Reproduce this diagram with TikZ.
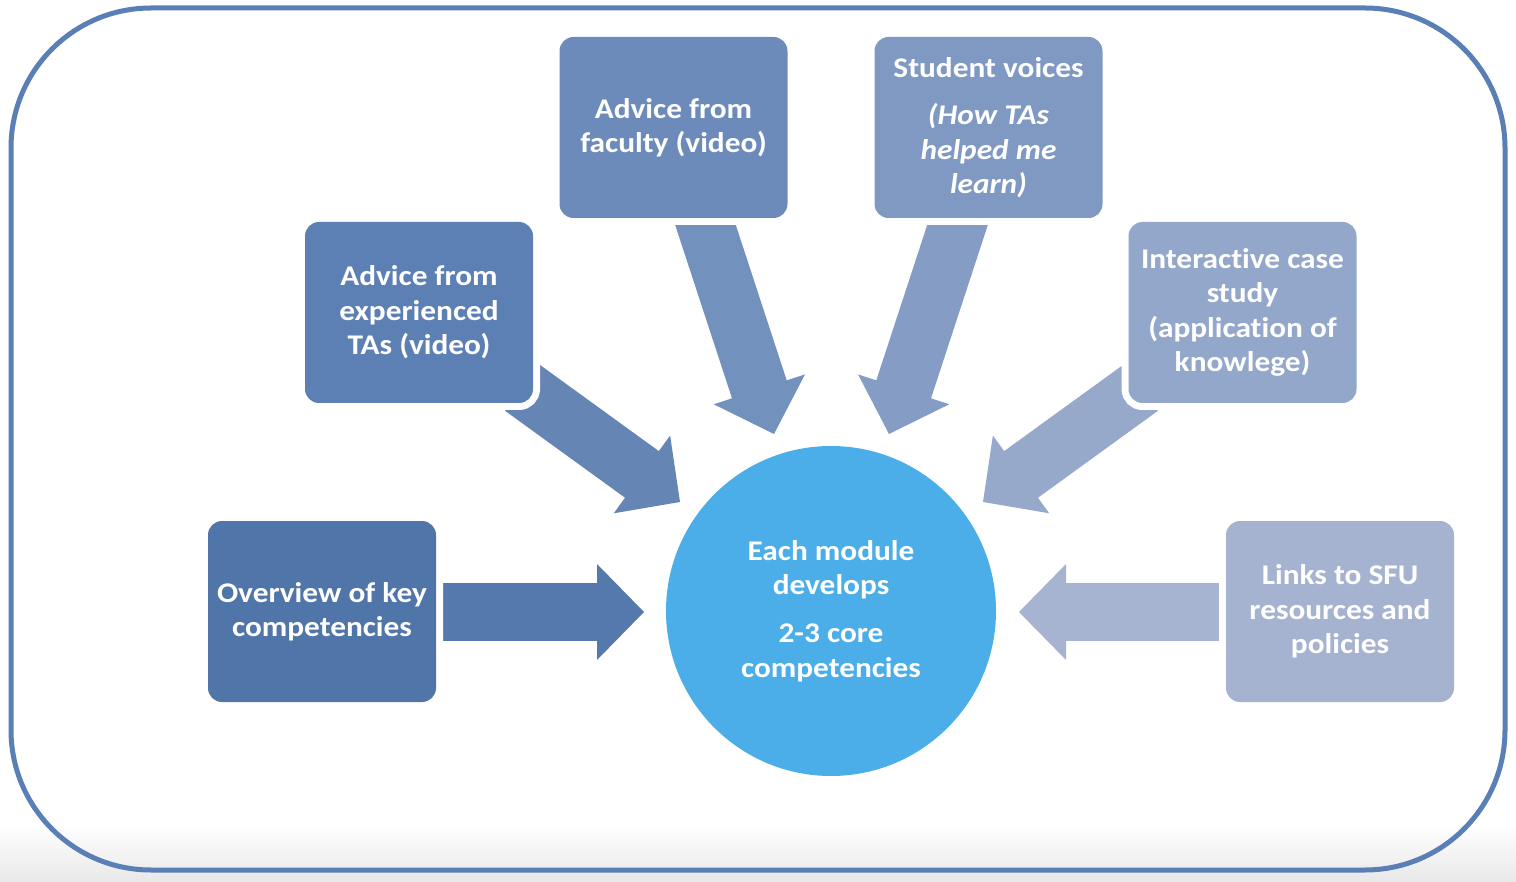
\documentclass[tikz,border=0pt]{standalone}
\usepackage{fontspec}
\setmainfont{Carlito}[FakeStretch=1.1, Ligatures=NoCommon]
\usetikzlibrary{calc}
\definecolor{frameblue}{HTML}{5A7EB6}
\definecolor{boxA}{HTML}{5075A8}
\definecolor{boxB}{HTML}{5D80B4}
\definecolor{boxC}{HTML}{6D8BBA}
\definecolor{boxD}{HTML}{7F99C2}
\definecolor{boxE}{HTML}{93A7CA}
\definecolor{boxF}{HTML}{A5B3D1}
\definecolor{arrA}{HTML}{5579AD}
\definecolor{arrB}{HTML}{6585B5}
\definecolor{arrC}{HTML}{7391BD}
\definecolor{arrD}{HTML}{859CC4}
\definecolor{arrE}{HTML}{97A9CB}
\definecolor{arrF}{HTML}{A6B4D2}
\definecolor{hub}{HTML}{4BAEE8}
\newcommand{\blockarr}[3]{%
  \fill[#3] ($(#1)!28.8pt!90:(#2)$)
    -- ($(#2)!47pt!(#1)!28.8pt!90:(#2)$)
    -- ($(#2)!47pt!(#1)!48pt!90:(#2)$)
    -- (#2)
    -- ($(#2)!47pt!(#1)!48pt!-90:(#2)$)
    -- ($(#2)!47pt!(#1)!28.8pt!-90:(#2)$)
    -- ($(#1)!28.8pt!-90:(#2)$) -- cycle;}
\tikzset{
  card/.style={rectangle, rounded corners=14pt, minimum width=228pt, minimum height=181pt,
    inner sep=0pt, align=center, text=white,
    font=\bfseries\fontsize{28.5}{34.5}\selectfont,
    preaction={draw=white, line width=14pt}},
  hubnode/.style={circle, fill=hub, minimum size=330pt, inner sep=0pt, align=center,
    text=white, font=\bfseries\fontsize{28.5}{34.5}\selectfont}
}
\begin{document}
\begin{tikzpicture}[x=1pt, y=-1pt]
\useasboundingbox (0,0) rectangle (1516,882);
\fill[white] (0,0) rectangle (1516,882);
\shade[top color=white, bottom color=black!9] (0,825) rectangle (1516,882);
\draw[line width=5pt, frameblue, rounded corners=140pt] (11,8) rectangle (1505,870);

% arrow anchor coordinates
\coordinate (sA) at (443,612);   \coordinate (tA) at (644,612);
\coordinate (sB) at (522,387.5); \coordinate (tB) at (680,502);
\coordinate (sC) at (697.3,200); \coordinate (tC) at (774,434);
\coordinate (sD) at (965.7,200); \coordinate (tD) at (889,434);
\coordinate (sE) at (1141,387.5);\coordinate (tE) at (983,502);
\coordinate (sF) at (1220,612);  \coordinate (tF) at (1019,612);

\blockarr{sA}{tA}{arrA}
\blockarr{sB}{tB}{arrB}
\blockarr{sC}{tC}{arrC}
\blockarr{sD}{tD}{arrD}
\blockarr{sE}{tE}{arrE}
\blockarr{sF}{tF}{arrF}

\node[hubnode] (hubc) at (831,611) {Each module\\develops\\[13.5pt]2-3 core\\competencies};

\node[card, fill=boxA] (b1) at (322,611.5) {Overview of key\\competencies};
\node[card, fill=boxB] (b2) at (419,312.5) {Advice from\\experienced\\TAs (video)};
\node[card, fill=boxC] (b3) at (673.5,127.5) {Advice from\\faculty (video)};
\node[card, fill=boxD] (b4) at (988.5,127.5) {Student voices\\[13pt]\textit{(How TAs}\\\textit{helped me}\\\textit{learn)}};
\node[card, fill=boxE] (b5) at (1242.5,312.5) {Interactive case\\study\\(application of\\knowlege)};
\node[card, fill=boxF] (b6) at (1340,611.5) {Links to SFU\\resources and\\policies};
\end{tikzpicture}
\end{document}
